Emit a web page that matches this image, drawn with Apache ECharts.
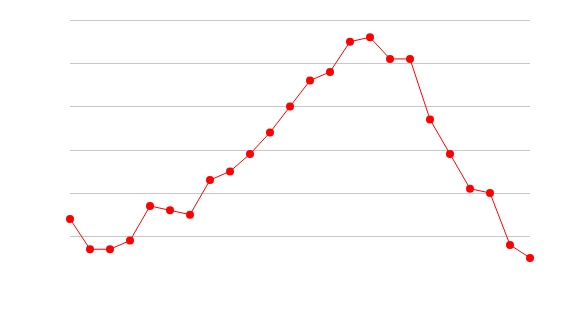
<!DOCTYPE html>
<html>
<head>
<meta charset="utf-8">
<script src="https://cdn.jsdelivr.net/npm/echarts@6/dist/echarts.min.js"></script>
<style>html,body{margin:0;padding:0;background:#fff}#c{width:570px;height:320px}</style>
</head>
<body>
<div id="c"></div>
<script>
var categories = ['1','2','3','4','5','6','7','8','9','10','11','12','13','14','15','16','17','18','19','20','21','22','23','24'];
var values = [14,7,7,9,17,16,15,23,25,29,34,40,46,48,55,56,51,51,37,29,21,20,8,5];
var yMin = 0, yMax = 60, yInterval = 10;

var chart = echarts.init(document.getElementById('c'), null, {renderer:'canvas'});
chart.setOption({
  animation:false,
  grid:{left:70,right:40,top:20,bottom:40.5},
  xAxis:{type:'category',data:categories,boundaryGap:false,
    axisLine:{show:false},axisTick:{show:false},axisLabel:{show:false},splitLine:{show:false}},
  yAxis:{type:'value',min:yMin,max:yMax,interval:yInterval,
    axisLine:{show:false},axisTick:{show:false},axisLabel:{show:false},
    splitLine:{show:true,showMinLine:false,lineStyle:{color:'#c8c8c8',width:1}}},
  series:[{type:'line',data:values,symbol:'circle',symbolSize:8,
    lineStyle:{color:'#ff0000',width:1},itemStyle:{color:'#ff0000'}}]
});
</script>
</body>
</html>
